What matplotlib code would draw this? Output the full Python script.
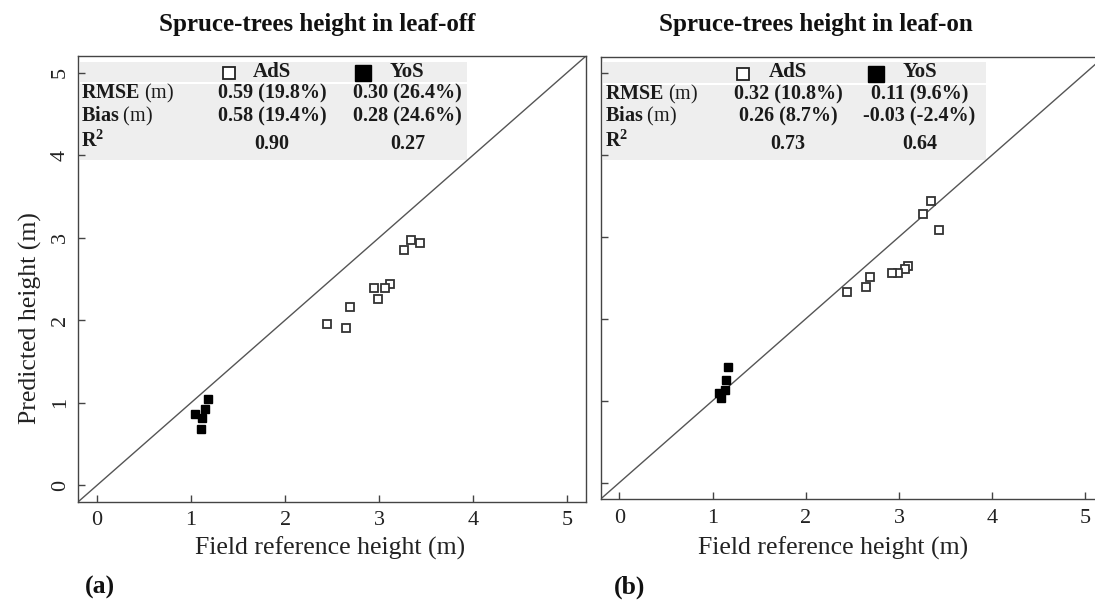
import matplotlib
matplotlib.use('Agg')
import matplotlib.pyplot as plt
from matplotlib.patches import Rectangle

# ---------------- data ----------------
field_off_ads = [3.34, 3.43, 3.26, 3.11, 3.06, 2.94, 2.99, 2.69, 2.45, 2.65]
pred_off_ads = [2.97, 2.93, 2.85, 2.44, 2.39, 2.39, 2.26, 2.16, 1.95, 1.91]
field_off_yos = [1.18, 1.15, 1.04, 1.12, 1.10]
pred_off_yos = [1.05, 0.92, 0.86, 0.81, 0.68]

field_on_ads = [3.34, 3.26, 3.43, 3.10, 3.06, 2.99, 2.93, 2.69, 2.65, 2.44]
pred_on_ads = [3.44, 3.28, 3.08, 2.65, 2.61, 2.56, 2.56, 2.51, 2.39, 2.33]
field_on_yos = [1.17, 1.14, 1.13, 1.07, 1.09]
pred_on_yos = [1.41, 1.25, 1.13, 1.09, 1.03]

titles = ["Spruce-trees height in leaf-off", "Spruce-trees height in leaf-on"]
panel_tags = ["(a)", "(b)"]
groups = ["AdS", "YoS"]
row_labels = [r"$\mathbf{RMSE}$ (m)", r"$\mathbf{Bias}$ (m)", r"$\mathbf{R^2}$"]
off_stats = [["0.59 (19.8%)", "0.30 (26.4%)"],
             ["0.58 (19.4%)", "0.28 (24.6%)"],
             ["0.90", "0.27"]]
on_stats = [["0.32 (10.8%)", "0.11 (9.6%)"],
            ["0.26 (8.7%)", "-0.03 (-2.4%)"],
            ["0.73", "0.64"]]
ticks = [0, 1, 2, 3, 4, 5]
xlabel = "Field reference height (m)"
ylabel = "Predicted height (m)"

# ---------------- style ----------------
plt.rcParams['font.family'] = ['Liberation Serif', 'DejaVu Serif']
plt.rcParams['mathtext.fontset'] = 'custom'
plt.rcParams['mathtext.rm'] = 'Liberation Serif'
plt.rcParams['mathtext.bf'] = 'Liberation Serif:bold'
plt.rcParams['mathtext.it'] = 'Liberation Serif:italic'

W, H = 1095, 600
fig = plt.figure(figsize=(W / 100, H / 100), dpi=100)


def px_rect(l, r, t, b):
    return [l / W, (H - b) / H, (r - l) / W, (b - t) / H]


ax1 = fig.add_axes(px_rect(78.3, 586, 56, 501.7))
ax2 = fig.add_axes(px_rect(600.7, 1104, 56.7, 499))

spine_c = '#444444'
txt_c = '#1a1a1a'

panels = [
    (ax1, field_off_ads, pred_off_ads, field_off_yos, pred_off_yos, off_stats),
    (ax2, field_on_ads, pred_on_ads, field_on_yos, pred_on_yos, on_stats),
]

# table layout (data coords)
col_layout = [
    dict(lab=-0.17, m1=1.40, c1=1.86, m2=2.83, c2=3.30),
    dict(lab=-0.15, m1=1.33, c1=1.81, m2=2.75, c2=3.22),
]
row_y = [4.74, 4.47, 4.13]
head_y = 5.01

for i, (ax, fa, pa, fy, py, stats) in enumerate(panels):
    ax.set_xlim(-0.2, 5.2)
    ax.set_ylim(-0.2, 5.2)
    for s in ax.spines.values():
        s.set_color(spine_c)
        s.set_linewidth(1.0)
    ax.set_xticks(ticks)
    ax.set_yticks(ticks)
    ax.tick_params(direction='in', length=5, width=1.0, color=spine_c,
                   labelsize=16, labelcolor='#222222')
    ax.tick_params(axis='x', pad=7)
    ax.tick_params(axis='y', pad=6, labelrotation=90)
    for lab in ax.get_yticklabels():
        lab.set_va('center')
    if i == 1:
        ax.tick_params(axis='y', labelleft=False)

    # gray stats box
    ax.add_patch(Rectangle((-0.18, 3.94), 4.11, 1.19, facecolor='#eeeeee',
                           edgecolor='none', zorder=1))
    ax.plot([-0.18, 3.93], [4.87, 4.87], color='white', lw=1.5, zorder=1.5)

    # 1:1 line
    ax.axline((0, 0), slope=1, color='#555555', lw=1.0, zorder=2)

    ax.plot(fa, pa, linestyle='none', marker='s', ms=6.2, mfc='white',
            mec='#333333', mew=1.3, zorder=3)
    ax.plot(fy, py, linestyle='none', marker='s', ms=6.0, mfc='black',
            mec='black', mew=1.0, zorder=3)

    L = col_layout[i]
    # header
    ax.plot([L['m1']], [head_y - 0.02], marker='s', ms=8, mfc='white',
            mec='#222222', mew=1.3, linestyle='none', zorder=4, clip_on=False)
    ax.plot([L['m2']], [head_y - 0.02], marker='s', ms=11.5, mfc='black',
            mec='black', linestyle='none', zorder=4, clip_on=False)
    ax.text(L['c1'], head_y, groups[0], ha='center', va='center',
            fontsize=15, fontweight='bold', color=txt_c, zorder=4)
    ax.text(L['c2'], head_y, groups[1], ha='center', va='center',
            fontsize=15, fontweight='bold', color=txt_c, zorder=4)
    for r, (lab, vals) in enumerate(zip(row_labels, stats)):
        ax.text(L['lab'], row_y[r] + (0.04 if r == 2 else 0), lab,
                ha='left', va='center', fontsize=14.5, color=txt_c, zorder=4)
        ax.text(L['c1'], row_y[r], vals[0], ha='center', va='center',
                fontsize=14.5, fontweight='bold', color=txt_c, zorder=4)
        ax.text(L['c2'], row_y[r], vals[1], ha='center', va='center',
                fontsize=14.5, fontweight='bold', color=txt_c, zorder=4)

# titles, axis labels, panel tags (figure pixel positions)
for x, t in zip([317, 816], titles):
    fig.text(x / W, 1 - 25 / H, t, ha='center', va='center', fontsize=18,
             fontweight='bold', color='#111111')
for x in [330, 833]:
    fig.text(x / W, 1 - 548 / H, xlabel, ha='center', va='center',
             fontsize=18.5, color='#222222')
fig.text(30 / W, 1 - 318 / H, ylabel, ha='center', va='center',
         rotation=90, fontsize=18.5, color='#222222')
for x, t in zip([100, 630], panel_tags):
    fig.text(x / W, 1 - 587 / H, t, ha='center', va='center', fontsize=18.5,
             fontweight='bold', color='#111111')

fig.savefig('out.png', dpi=100)
